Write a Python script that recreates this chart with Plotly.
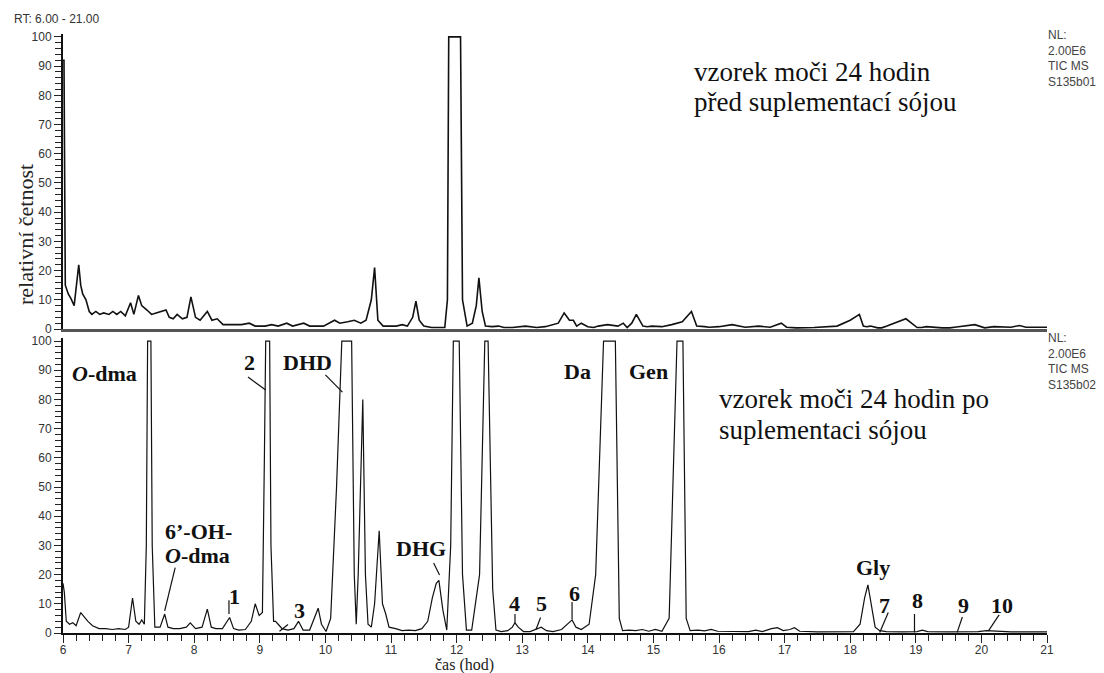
import plotly.graph_objects as go

# ---------------- data ----------------
# top chromatogram: before soy supplementation (time [h], relative abundance)
top_t = [6.00, 6.015, 6.035, 6.08, 6.12, 6.17, 6.24, 6.27, 6.30, 6.35,
         6.40, 6.44, 6.50, 6.56, 6.62, 6.70, 6.76, 6.82, 6.88, 6.95,
         7.03, 7.08, 7.15, 7.20, 7.28, 7.35, 7.42, 7.50, 7.57, 7.62,
         7.68, 7.74, 7.82, 7.89, 7.95, 8.02, 8.09, 8.20, 8.27, 8.35,
         8.44, 8.58, 8.72, 8.84, 8.93, 9.08, 9.18, 9.28, 9.41, 9.50,
         9.67, 9.76, 9.97, 10.14, 10.22, 10.34, 10.44, 10.54, 10.62, 10.70,
         10.75, 10.80, 10.88, 10.98, 11.08, 11.17, 11.25, 11.33, 11.38, 11.43,
         11.50, 11.62, 11.74, 11.82, 11.86, 11.88, 12.06, 12.09, 12.16, 12.24,
         12.30, 12.34, 12.39, 12.44, 12.54, 12.64, 12.72, 12.85, 13.05, 13.22,
         13.35, 13.55, 13.64, 13.72, 13.78, 13.83, 13.90, 14.00, 14.09, 14.16,
         14.30, 14.46, 14.54, 14.60, 14.67, 14.74, 14.84, 14.91, 14.97, 15.06,
         15.13, 15.28, 15.44, 15.58, 15.66, 15.78, 15.85, 16.00, 16.20, 16.40,
         16.50, 16.60, 16.78, 16.85, 16.95, 17.03, 17.11, 17.18, 17.45, 17.80,
         18.00, 18.14, 18.20, 18.25, 18.31, 18.42, 18.48, 18.56, 18.85, 19.02,
         19.09, 19.16, 19.40, 19.52, 19.62, 19.90, 20.05, 20.12, 20.19, 20.45,
         20.58, 20.68, 20.78, 20.86, 21.00]
top_i = [92, 92, 15, 12, 10.5, 8, 22, 15, 12, 10,
         6, 5, 6, 5, 5.5, 5, 6, 5, 6, 4.5,
         9, 5, 11.5, 8, 6.5, 5, 5.5, 6, 6.5, 4,
         3.5, 5, 3.5, 4, 11, 4, 3, 6, 3, 3.5,
         1.5, 1.5, 1.5, 2, 1, 1, 1.5, 1, 2, 1,
         2, 1, 1, 3, 2, 2.5, 3, 2, 3, 10,
         21, 3, 1, 1, 1, 1.5, 1, 4, 9.5, 3,
         1, 0.5, 0.5, 0.5, 10, 100, 100, 10, 1, 2,
         8, 17.5, 6, 1, 0.8, 1, 0.5, 0.5, 1, 0.5,
         0.8, 2, 5.5, 3, 3, 1, 2, 0.8, 0.5, 1,
         1.5, 1, 2, 0.5, 2, 5, 1, 0.8, 1, 1,
         0.8, 1.5, 2.5, 6, 1, 0.8, 0.6, 0.8, 1.5, 0.6,
         0.8, 1, 0.6, 1.2, 2, 0.6, 0.4, 0.4, 0.5, 1,
         3, 5, 1, 0.8, 1, 0.4, 0.4, 1, 3.5, 0.5,
         0.5, 0.8, 0.4, 0.4, 0.7, 1.5, 0.4, 0.5, 0.8, 0.6,
         1.2, 0.6, 0.6, 0.6, 0.6]

# bottom chromatogram: after soy supplementation
bot_t = [6.00, 6.02, 6.05, 6.10, 6.15, 6.20, 6.27, 6.32, 6.38, 6.45,
         6.55, 6.65, 6.75, 6.85, 6.95, 7.00, 7.06, 7.11, 7.16, 7.20,
         7.24, 7.27, 7.29, 7.34, 7.36, 7.40, 7.48, 7.55, 7.60, 7.68,
         7.78, 7.88, 7.94, 8.02, 8.12, 8.20, 8.26, 8.33, 8.43, 8.54,
         8.60, 8.68, 8.78, 8.87, 8.93, 8.99, 9.04, 9.07, 9.09, 9.15,
         9.17, 9.21, 9.24, 9.28, 9.34, 9.43, 9.52, 9.59, 9.66, 9.76,
         9.83, 9.89, 9.94, 10.01, 10.08, 10.17, 10.25, 10.40, 10.44, 10.47,
         10.50, 10.57, 10.61, 10.65, 10.70, 10.75, 10.82, 10.87, 10.92, 10.97,
         11.07, 11.17, 11.27, 11.37, 11.47, 11.56, 11.63, 11.69, 11.73, 11.79,
         11.85, 11.91, 11.95, 12.04, 12.09, 12.15, 12.23, 12.35, 12.43, 12.48,
         12.55, 12.60, 12.68, 12.78, 12.85, 12.89, 12.94, 13.02, 13.12, 13.22,
         13.29, 13.37, 13.47, 13.60, 13.68, 13.76, 13.82, 13.90, 14.02, 14.12,
         14.24, 14.42, 14.48, 14.53, 14.63, 14.73, 14.83, 14.93, 15.03, 15.13,
         15.24, 15.36, 15.45, 15.50, 15.56, 15.68, 15.78, 15.88, 15.98, 16.20,
         16.45, 16.56, 16.66, 16.80, 16.89, 16.98, 17.08, 17.15, 17.23, 17.50,
         17.80, 18.05, 18.15, 18.22, 18.27, 18.32, 18.38, 18.45, 18.55, 18.80,
         19.02, 19.10, 19.18, 19.50, 19.95, 20.08, 20.45, 21.00]
bot_i = [17, 14, 4, 3, 3.5, 2.5, 7, 5.5, 4, 2.5,
         1.5, 1.5, 1.2, 1.5, 1.2, 2, 12, 4, 3, 4.5,
         3, 30, 100, 100, 30, 2, 2, 6.5, 2, 1.5,
         1.5, 2, 3.5, 1.5, 2, 8.2, 2, 1.5, 1.5, 5.3,
         1.5, 1, 1.2, 4, 10, 6, 7, 60, 100, 100,
         30, 4, 4, 3, 1.5, 1, 1.5, 4, 1, 1,
         5, 8.5, 3, 0.5, 5, 50, 100, 100, 20, 3,
         20, 80, 20, 3, 2, 10, 35, 10, 6.5, 2,
         1.5, 0.8, 1, 0.8, 1.5, 4, 12, 17, 18, 8,
         1, 30, 100, 100, 20, 1, 1, 20, 100, 100,
         15, 1, 0.5, 0.8, 2, 3.5, 2, 0.5, 0.5, 1.5,
         2, 0.8, 0.5, 1.2, 3, 4.5, 2, 1.2, 3, 20,
         100, 100, 5, 0.8, 1, 0.8, 1.2, 0.6, 1.2, 0.6,
         5, 100, 100, 5, 0.8, 1, 0.7, 1.2, 0.6, 0.5,
         0.5, 1, 0.5, 1.5, 1.8, 0.8, 1.2, 1.8, 0.6, 0.4,
         0.4, 0.5, 3, 12, 16.5, 10, 2, 0.8, 0.5, 0.4,
         0.5, 1, 0.5, 0.4, 0.5, 0.8, 0.4, 0.4]

# peak labels in the lower chromatogram
label_text = ["<i>O</i>-dma", "2", "DHD", "Da", "Gen", "6\u2019-OH-", "<i>O</i>-dma", "DHG",
              "1", "3", "4", "5", "6", "Gly", "7", "8", "9", "10"]
label_t = [6.64, 8.85, 9.73, 13.85, 14.93, 7.52, 7.52, 11.45,
           8.62, 9.61, 12.89, 13.29, 13.80, 18.34, 18.53, 19.02, 19.73, 20.31]
label_i = [89, 92.5, 92.5, 89.4, 89.4, 34.6, 26.7, 29.1,
           12.4, 7.6, 10, 10, 13.5, 22.5, 9.4, 11.2, 9.4, 9.4]
label_anchor = ["center", "center", "center", "center", "center", "left", "left", "center",
                "center", "center", "center", "center", "center", "center", "center", "center",
                "center", "center"]

# leader lines (t0, i0) -> (t1, i1)
lead_t0 = [8.82, 10.00, 7.71, 11.65, 8.53, 9.43, 12.89, 13.28, 13.76, 18.58, 18.98, 19.71, 20.27]
lead_i0 = [87.7, 88.4, 22.4, 24.0, 11.2, 2.9, 6.5, 5.3, 10.6, 7.0, 6.5, 5.5, 6.2]
lead_t1 = [9.09, 10.26, 7.55, 11.74, 8.53, 9.30, 12.89, 13.21, 13.76, 18.45, 18.98, 19.63, 20.11]
lead_i1 = [83.2, 82.5, 7.6, 19.9, 6.5, 0.6, 3.5, 1.2, 4.7, 0.2, 0.2, 0.2, 0.8]

x_ticks = list(range(6, 22))

# ---------------- figure ----------------
SANS = "Liberation Sans, Arial, sans-serif"
SERIF = "Liberation Serif, Times New Roman, serif"

fig = go.Figure()
fig.add_trace(go.Scatter(x=top_t, y=top_i, mode="lines", xaxis="x", yaxis="y",
                         line=dict(color="#111111", width=1.6), hoverinfo="skip"))
fig.add_trace(go.Scatter(x=bot_t, y=bot_i, mode="lines", xaxis="x2", yaxis="y2",
                         line=dict(color="#111111", width=1.2), hoverinfo="skip"))

yax_common = dict(range=[0, 101], tickvals=list(range(0, 101, 10)), ticks="outside",
                  ticklen=7, tickwidth=1, tickcolor="#222", showline=True, linecolor="#111",
                  linewidth=2, showgrid=False, zeroline=False,
                  tickfont=dict(family=SANS, size=12, color="#333"),
                  minor=dict(dtick=2, ticks="outside", ticklen=6, tickcolor="#222", tickwidth=1))

fig.update_layout(
    width=1104, height=673,
    margin=dict(l=63, r=57, t=34, b=40),
    paper_bgcolor="white", plot_bgcolor="white",
    showlegend=False,
    xaxis=dict(domain=[0, 1], anchor="y", range=[6, 21], showticklabels=False, ticks="",
               showline=True, linecolor="#555", linewidth=2.5, showgrid=False, zeroline=False),
    yaxis=dict(domain=[0.5075, 1], anchor="x", **yax_common),
    xaxis2=dict(domain=[0, 1], anchor="y2", range=[6, 21], matches="x", tickvals=x_ticks,
                ticks="outside", ticklen=8, tickwidth=1, tickcolor="#222", showline=True,
                linecolor="#111", linewidth=1.5, showgrid=False, zeroline=False,
                ticklabelstandoff=-3,
                tickfont=dict(family=SANS, size=12, color="#333"),
                minor=dict(dtick=0.2, ticks="outside", ticklen=6, tickcolor="#222", tickwidth=1)),
    yaxis2=dict(domain=[0, 0.4923], anchor="x2", **yax_common),
)


def py(pix):
    return (633 - pix) / 599


def px(pix):
    return (pix - 63) / (1047 - 63)


ann = []
# peak labels
for txt, t, i, a in zip(label_text, label_t, label_i, label_anchor):
    ann.append(dict(x=t, y=i, xref="x2", yref="y2", text=f"<b>{txt}</b>", showarrow=False,
                    xanchor=a, yanchor="middle",
                    font=dict(family=SERIF, size=22, color="#111")))

# leader lines
shapes = []
for a0, b0, a1, b1 in zip(lead_t0, lead_i0, lead_t1, lead_i1):
    shapes.append(dict(type="line", xref="x2", yref="y2", x0=a0, y0=b0, x1=a1, y1=b1,
                       line=dict(color="#111", width=1.2)))

# header / instrument texts
ann.append(dict(x=px(12), y=py(19), xref="paper", yref="paper", text="RT: 6.00 - 21.00",
                showarrow=False, xanchor="left", yanchor="middle",
                font=dict(family=SANS, size=12, color="#333")))
nl_top = ["NL:", "2.00E6", "TIC MS", "S135b01"]
nl_bot = ["NL:", "2.00E6", "TIC MS", "S135b02"]
for k, s in enumerate(nl_top):
    ann.append(dict(x=px(1046), y=py(35 + 15.5 * k), xref="paper", yref="paper", text=s,
                    showarrow=False, xanchor="left", yanchor="middle",
                    font=dict(family=SANS, size=12, color="#444")))
for k, s in enumerate(nl_bot):
    ann.append(dict(x=px(1046), y=py(338 + 15.5 * k), xref="paper", yref="paper", text=s,
                    showarrow=False, xanchor="left", yanchor="middle",
                    font=dict(family=SANS, size=12, color="#444")))

# sample descriptions
desc = [("vzorek moči 24 hodin", 692, 72), ("před suplementací sójou", 692, 102),
        ("vzorek moči 24 hodin po", 717, 399), ("suplementaci sójou", 717, 430)]
for s, x0, y0 in desc:
    ann.append(dict(x=px(x0), y=py(y0), xref="paper", yref="paper", text=s, showarrow=False,
                    xanchor="left", yanchor="middle",
                    font=dict(family=SERIF, size=27, color="#111")))

# axis titles
ann.append(dict(x=px(25), y=py(235), xref="paper", yref="paper", text="relativní četnost",
                showarrow=False, textangle=-90, xanchor="center", yanchor="middle",
                font=dict(family=SERIF, size=22, color="#222")))
ann.append(dict(x=px(464), y=py(665), xref="paper", yref="paper", text="čas (hod)",
                showarrow=False, xanchor="center", yanchor="middle",
                font=dict(family=SERIF, size=16, color="#222")))

fig.update_layout(annotations=ann, shapes=shapes)
fig.write_html("out.html", config={"displayModeBar": False},
               post_script="document.body.style.margin='0';")
